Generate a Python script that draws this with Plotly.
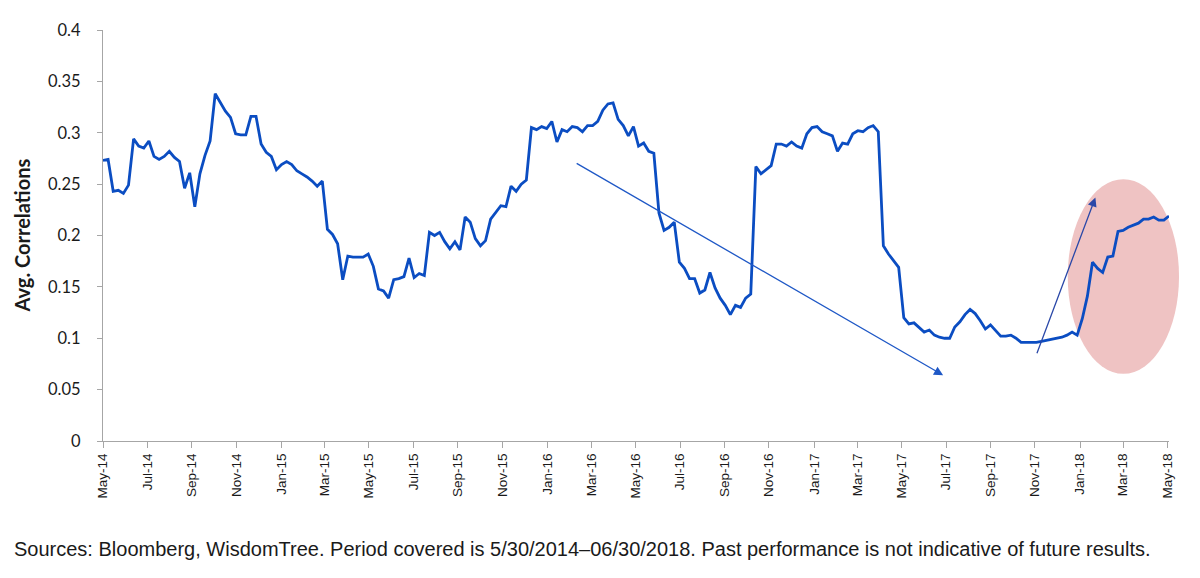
import plotly.graph_objects as go
import pandas as pd

# weekly average correlations (first obs 5/30/2014)
start_date = "2014-05-30"
corr = [
    0.273, 0.274, 0.243, 0.244, 0.241, 0.249, 0.294, 0.287, 0.285, 0.292,
    0.277, 0.274, 0.277, 0.282, 0.276, 0.272, 0.246, 0.261, 0.228, 0.260,
    0.278, 0.292, 0.338, 0.329, 0.321, 0.315, 0.299, 0.298, 0.298, 0.316,
    0.316, 0.289, 0.281, 0.277, 0.264, 0.269, 0.272, 0.269, 0.263,
    0.260, 0.257, 0.253, 0.248, 0.253, 0.206, 0.201, 0.192, 0.157, 0.180,
    0.179, 0.179, 0.179, 0.182, 0.170, 0.148, 0.146, 0.139, 0.157, 0.158,
    0.160, 0.178, 0.159, 0.163, 0.161, 0.203, 0.200, 0.203, 0.194, 0.187,
    0.194, 0.186, 0.218, 0.213, 0.197, 0.190, 0.195, 0.216, 0.222, 0.229,
    0.228,
    0.248, 0.243, 0.250, 0.254, 0.305, 0.303, 0.306, 0.304, 0.311, 0.291,
    0.303, 0.301, 0.306, 0.305, 0.301, 0.307, 0.307, 0.311, 0.322, 0.328,
    0.329, 0.313, 0.307, 0.297, 0.306, 0.287, 0.290, 0.282, 0.280, 0.222,
    0.205, 0.208, 0.213, 0.174, 0.168, 0.158, 0.158, 0.144, 0.147, 0.164,
    0.149, 0.139, 0.132, 0.123, 0.132, 0.130, 0.139, 0.143, 0.267, 0.260,
    0.264, 0.268, 0.289, 0.289, 0.287, 0.291, 0.287, 0.285, 0.299, 0.305,
    0.306, 0.301, 0.299, 0.297, 0.282, 0.290, 0.289, 0.299, 0.302, 0.301,
    0.305, 0.307, 0.301, 0.190, 0.182, 0.176, 0.169, 0.120, 0.114, 0.115,
    0.110, 0.106, 0.108, 0.103, 0.101, 0.100, 0.100, 0.111, 0.116, 0.123,
    0.128, 0.124, 0.117, 0.109, 0.113,
    0.108, 0.102, 0.102, 0.103, 0.100, 0.096, 0.096, 0.096, 0.096, 0.097,
    0.098, 0.099, 0.100, 0.101, 0.103, 0.106, 0.103, 0.119, 0.141, 0.174,
    0.168, 0.164, 0.179, 0.180, 0.204, 0.205, 0.208, 0.210, 0.212, 0.216,
    0.216, 0.218, 0.215, 0.215, 0.219,
]
dates = pd.date_range(start_date, periods=len(corr), freq="7D")

source_note = ("Sources: Bloomberg, WisdomTree. Period covered is 5/30/2014\u201306/30/2018. "
               "Past performance is not indicative of future results.")

line_blue = "#0b4dc2"
arrow_blue = "#1f58c6"
axis_grey = "#a6a6a6"

fig = go.Figure()
fig.add_trace(go.Scatter(x=dates, y=corr, mode="lines",
                         line=dict(color=line_blue, width=2.8), hoverinfo="skip"))

# pink highlight ellipse around the 2018 pickup
fig.add_shape(type="circle", xref="paper", yref="paper",
              x0=0.905, x1=1.0094, y0=0.1635, y1=0.637,
              fillcolor="#efc3c3", line=dict(width=0), layer="below")

# trend arrows
fig.add_annotation(x="2017-07-26", y=0.064, ax="2016-03-08", ay=0.271,
                   xref="x", yref="y", axref="x", ayref="y", text="",
                   showarrow=True, arrowhead=2, arrowsize=1.4, arrowwidth=1.3,
                   arrowcolor=arrow_blue, standoff=0)
fig.add_annotation(x="2018-02-20", y=0.237, ax="2017-12-01", ay=0.084,
                   xref="x", yref="y", axref="x", ayref="y", text="",
                   showarrow=True, arrowhead=2, arrowsize=1.4, arrowwidth=1.3,
                   arrowcolor="#2a48a8", standoff=0)

fig.add_annotation(text="<b>Avg. Correlations</b>", xref="paper", yref="paper",
                   x=-0.076, y=0.5, textangle=-90, showarrow=False,
                   xanchor="center", yanchor="middle",
                   font=dict(family="Lato", size=20, color="#1a1a1a"))
fig.add_annotation(text=source_note, xref="paper", yref="paper",
                   x=-0.0855, y=-0.2625, showarrow=False,
                   xanchor="left", yanchor="middle",
                   font=dict(family="Liberation Sans", size=20, color="#1a1a1a"))

fig.update_xaxes(type="date", range=["2014-05-30", "2018-06-01"],
                 tick0="2014-05-30", dtick="M2", tickformat="%b-%y",
                 tickangle=-90, ticks="outside", ticklen=6, tickcolor=axis_grey,
                 showline=True, linecolor=axis_grey, linewidth=1.3,
                 showgrid=False, zeroline=False,
                 tickfont=dict(family="Liberation Sans", size=13.5, color="#1a1a1a"))
fig.update_yaxes(range=[0, 0.4], dtick=0.05, tickformat="~g",
                 ticks="outside", ticklen=5, tickcolor=axis_grey,
                 showline=True, linecolor=axis_grey, linewidth=1.3,
                 showgrid=False, zeroline=False, ticklabelstandoff=13,
                 tickfont=dict(family="Lato", size=16.5, color="#1a1a1a"))

# page body has an 8px margin, so the figure is sized to fit the window
fig.update_layout(width=1192, height=570, showlegend=False,
                  plot_bgcolor="white", paper_bgcolor="white",
                  margin=dict(l=95, r=31, t=14, b=137))

fig.write_html("out.html")
